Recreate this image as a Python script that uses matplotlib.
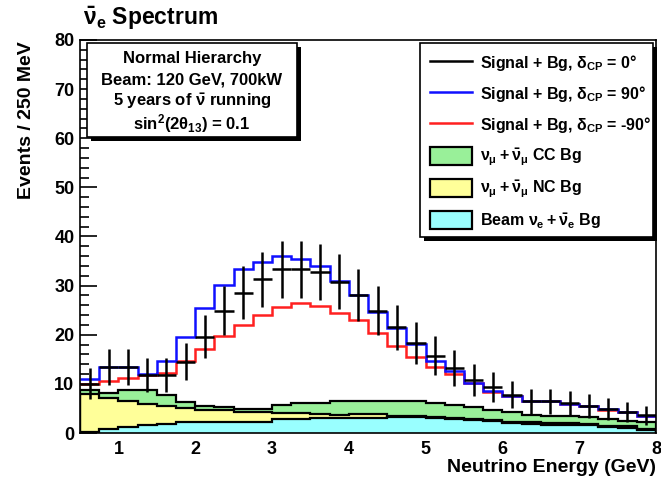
import numpy as np
import matplotlib
matplotlib.use("Agg")
import matplotlib.pyplot as plt
from matplotlib.lines import Line2D
from matplotlib.patches import Patch, Rectangle
from matplotlib.ticker import MultipleLocator

plt.rcParams['font.family'] = ['Liberation Sans', 'DejaVu Sans']
plt.rcParams['font.weight'] = 'bold'
plt.rcParams['mathtext.fontset'] = 'custom'
plt.rcParams['mathtext.rm'] = 'Liberation Sans:bold'
plt.rcParams['mathtext.it'] = 'Liberation Sans:bold'
plt.rcParams['mathtext.bf'] = 'Liberation Sans:bold'
plt.rcParams['mathtext.sf'] = 'Liberation Sans:bold'

# ---------------- data ----------------
bin_edges = np.arange(0.5, 8.0001, 0.25)   # 250 MeV bins

signal_dcp0 = [10.0, 13.5, 13.5, 11.8, 11.8, 14.5, 19.6, 24.9, 28.6, 31.3,
               33.3, 33.3, 32.8, 30.8, 28.1, 24.9, 21.5, 18.3, 15.7, 13.2,
               10.8, 9.4, 7.8, 6.5, 6.5, 6.1, 5.5, 4.9, 4.3, 3.6]
signal_dcp90 = [10.9, 13.5, 13.5, 12.0, 14.7, 19.5, 25.4, 30.1, 33.3, 34.9,
                36.0, 35.4, 33.9, 31.0, 28.1, 24.7, 21.3, 18.2, 14.7, 12.6,
                10.2, 8.5, 7.6, 6.6, 6.6, 6.0, 5.5, 4.8, 4.3, 3.5]
signal_dcpm90 = [10.0, 10.5, 11.1, 11.8, 12.3, 14.6, 17.0, 19.8, 22.0, 24.0,
                 25.7, 26.4, 25.8, 24.4, 23.1, 20.3, 17.7, 15.5, 13.5, 12.0,
                 10.2, 8.4, 7.5, 6.5, 6.5, 5.9, 5.4, 4.7, 4.2, 3.4]

beam_nue_bg = [0.3, 0.9, 1.3, 1.6, 1.8, 2.2, 2.3, 2.3, 2.3, 2.3,
               2.8, 2.9, 3.0, 3.0, 3.1, 3.1, 3.2, 3.2, 3.0, 2.9,
               2.6, 2.5, 2.0, 1.9, 1.7, 1.7, 1.6, 1.2, 1.1, 0.7]
nc_bg = [7.7, 6.2, 5.3, 4.4, 3.6, 2.8, 2.4, 2.3, 2.0, 1.9,
         1.2, 1.1, 0.8, 0.7, 0.7, 0.7, 0.3, 0.3, 0.2, 0.2,
         0.2, 0.2, 0.3, 0.3, 0.3, 0.3, 0.3, 0.3, 0.3, 0.2]
cc_bg = [0.7, 1.1, 2.2, 2.8, 2.3, 1.4, 0.7, 0.6, 0.6, 0.7,
         1.7, 2.2, 2.4, 2.9, 2.8, 2.8, 3.1, 3.1, 3.0, 2.6,
         2.4, 1.9, 1.9, 1.4, 1.4, 1.4, 1.4, 1.4, 1.0, 1.4]

legend_labels = [r'Signal + Bg, $\delta_{CP}$ = 0$\degree$',
                 r'Signal + Bg, $\delta_{CP}$ = 90$\degree$',
                 r'Signal + Bg, $\delta_{CP}$ = -90$\degree$',
                 r'$\nu_{\mu} + \bar{\nu}_{\mu}$ CC Bg',
                 r'$\nu_{\mu} + \bar{\nu}_{\mu}$ NC Bg',
                 r'Beam $\nu_{e} + \bar{\nu}_{e}$ Bg']
info_lines = ['Normal Hierarchy', 'Beam: 120 GeV, 700kW',
              r'5 years of $\bar{\nu}$ running', r'sin$^{2}$(2$\theta_{13}$) = 0.1']

col_green = '#99f099'
col_yellow = '#ffff99'
col_cyan = '#99ffff'

# ---------------- figure ----------------
W, H = 661, 480
fig = plt.figure(figsize=(W / 100, H / 100), dpi=100)
AX_L, AX_R, AX_T, AX_B = 80, 656, 40, 433
ax = fig.add_axes([AX_L / W, 1 - AX_B / H, (AX_R - AX_L) / W, (AX_B - AX_T) / H])


def fx(px):
    return (px - AX_L) / (AX_R - AX_L)


def fy(py):
    return (AX_B - py) / (AX_B - AX_T)


edges = np.asarray(bin_edges)
lay1 = np.asarray(beam_nue_bg)
lay2 = lay1 + np.asarray(nc_bg)
lay3 = lay2 + np.asarray(cc_bg)

lwk = 1.6
for top, col in [(lay3, col_green), (lay2, col_yellow), (lay1, col_cyan)]:
    ax.stairs(top, edges, baseline=0, fill=True, color=col, zorder=1)
    ax.stairs(top, edges, baseline=0, color='black', lw=lwk, zorder=1.1)

ax.stairs(signal_dcpm90, edges, baseline=None, color='#ff2020', lw=1.8, zorder=2)
ax.stairs(signal_dcp90, edges, baseline=None, color='#1010ff', lw=1.8, zorder=2.2)

centers = 0.5 * (edges[:-1] + edges[1:])
s0 = np.asarray(signal_dcp0)
ax.errorbar(centers, s0, xerr=0.125, yerr=np.sqrt(s0), fmt='none',
            ecolor='black', elinewidth=1.8, capsize=0, zorder=3)

ax.set_xlim(0.5, 8.0)
ax.set_ylim(0, 80)
ax.set_axisbelow(True)
ax.yaxis.set_major_locator(MultipleLocator(10))
ax.yaxis.set_minor_locator(MultipleLocator(2))
ax.xaxis.set_major_locator(MultipleLocator(1))
ax.tick_params(axis='y', which='major', direction='in', length=12, width=1.2,
               labelsize=13, pad=4)
ax.tick_params(axis='y', which='minor', direction='in', length=6.5, width=1.2)
ax.tick_params(axis='x', which='both', direction='in', length=0, labelsize=13, pad=6)
for sp in ax.spines.values():
    sp.set_linewidth(1.2)
    sp.set_zorder(10)

# titles / labels
fig.text(83 / W, 1 - 18 / H, r'$\bar{\nu}_{e}$ Spectrum', fontsize=16.5,
         fontweight='bold', ha='left', va='center')
fig.text(27 / W, 1 - 41 / H, 'Events / 250 MeV', rotation=90, fontsize=14,
         fontweight='bold', ha='center', va='top')
fig.text(656 / W, 1 - 467 / H, 'Neutrino Energy (GeV)', fontsize=14,
         fontweight='bold', ha='right', va='center')


def shadow_box(x0, y0, x1, y1, z):
    off = 4
    ax.add_patch(Rectangle((fx(x0 + off), fy(y1 + off)), fx(x1 + off) - fx(x0 + off),
                           fy(y0 + off) - fy(y1 + off), transform=ax.transAxes,
                           facecolor='black', edgecolor='black', lw=0,
                           zorder=z, clip_on=False))
    ax.add_patch(Rectangle((fx(x0), fy(y1)), fx(x1) - fx(x0), fy(y0) - fy(y1),
                           transform=ax.transAxes, facecolor='white',
                           edgecolor='black', lw=1.2, zorder=z + 0.1, clip_on=False))


# info box
shadow_box(87, 43, 297, 137, 5)
for i, t in enumerate(info_lines):
    ax.text(fx(192), fy(58 + 21.7 * i), t, transform=ax.transAxes, fontsize=12,
            fontweight='bold', ha='center', va='center', zorder=6)

# legend box
shadow_box(420, 43, 653, 237, 5)
handles = [Line2D([], [], color='black', lw=1.8),
           Line2D([], [], color='#1010ff', lw=1.8),
           Line2D([], [], color='#ff2020', lw=1.8),
           Patch(facecolor=col_green, edgecolor='black', lw=1.6),
           Patch(facecolor=col_yellow, edgecolor='black', lw=1.6),
           Patch(facecolor=col_cyan, edgecolor='black', lw=1.6)]
leg = ax.legend(handles, legend_labels, loc='upper left',
                bbox_to_anchor=(fx(430), fy(53)), bbox_transform=ax.transAxes,
                frameon=False, fontsize=11.5, handlelength=2.6, handleheight=1.35,
                labelspacing=0.70, borderpad=0, borderaxespad=0, handletextpad=0.5)
leg.set_zorder(7)

fig.savefig('out.png', dpi=100)
